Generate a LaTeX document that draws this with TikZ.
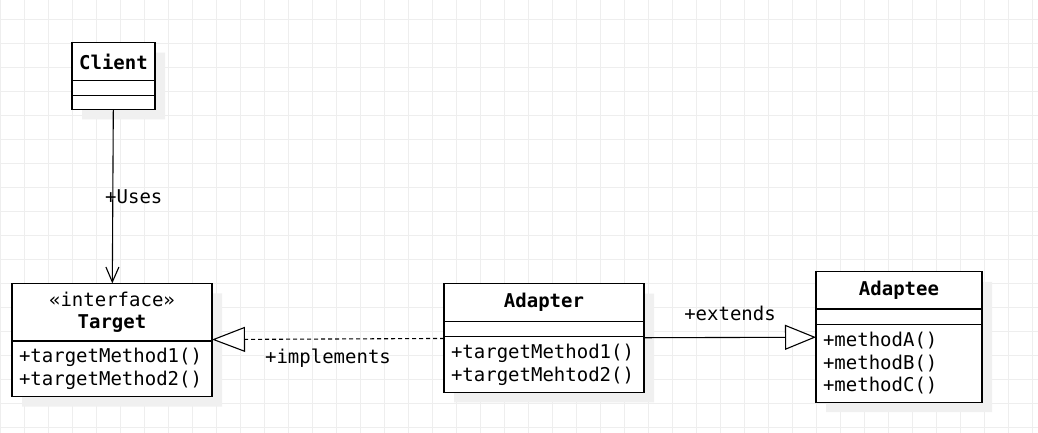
\documentclass[tikz,border=0pt]{standalone}
\usepackage{fontspec}
\setmainfont{DejaVu Sans Mono}
\usepackage{tikz}
\usetikzlibrary{shadows}
\usetikzlibrary{positioning}
\usetikzlibrary{shapes.multipart}
\usetikzlibrary{arrows.meta}

\definecolor{gridgray}{HTML}{EEEEEE}
\definecolor{shadowgray}{HTML}{F0F0F0}

\newcommand{\classhead}[3]{\parbox[c][#2][c]{#1}{\centering #3}}
\newcommand{\classbody}[3]{\parbox[c][#2][c]{#1}{\raggedright\leftskip=7pt #3}}

\tikzset{
  umlclass/.style={rectangle split, rectangle split parts=#1, draw, line width=1.1pt,
    fill=white, inner sep=0pt, outer sep=0pt,
    drop shadow={shadow xshift=10pt, shadow yshift=-10pt, fill=shadowgray, opacity=1}},
  usesedge/.style={line width=1.1pt, -{Straight Barb[length=15pt, width=13pt]}},
  realizeedge/.style={line width=1.1pt, dash pattern=on 4pt off 3pt,
    -{Triangle[length=33pt, width=25pt, fill=white]}},
  extendsedge/.style={line width=1.1pt, -{Triangle[length=31pt, width=25pt, fill=white]}},
}

\begin{document}
\begin{tikzpicture}[x=1pt, y=-1pt, font=\fontsize{19}{22.5}\selectfont]
\useasboundingbox (0,0) rectangle (1038,433);
% Background grid
\fill[white] (0,0) rectangle (1038,433);
\foreach \gx in {0,...,43} \draw[gridgray, line width=1pt] (0.3+24*\gx,0) -- (0.3+24*\gx,433);
\foreach \gy in {0,...,17} \draw[gridgray, line width=1pt] (0,19.3+24*\gy) -- (1038,19.3+24*\gy);

% Define nodes
\node[umlclass=3] (client) at (113.5,76) {\classhead{83pt}{37pt}{\textbf{Client}}
  \nodepart{two}\classbody{83pt}{14pt}{}
  \nodepart{three}\classbody{83pt}{12.5pt}{}};
\node[umlclass=2, below=174pt of client, xshift=-1.5pt] (target) {\classhead{200pt}{56.5pt}{«interface»\\\textbf{Target}}
  \nodepart{two}\classbody{200pt}{54.5pt}{+targetMethod1()\\+targetMethod2()}};
\node[umlclass=3, right=232pt of target, yshift=2pt] (adapter) {\classhead{200pt}{37pt}{\textbf{Adapter}}
  \nodepart{two}\classbody{200pt}{14pt}{}
  \nodepart{three}\classbody{200pt}{54.5pt}{+targetMethod1()\\+targetMehtod2()}};
\node[umlclass=3, right=172pt of adapter, yshift=1pt] (adaptee) {\classhead{166pt}{36pt}{\textbf{Adaptee}}
  \nodepart{two}\classbody{166pt}{14pt}{}
  \nodepart{three}\classbody{166pt}{77pt}{+methodA()\\+methodB()\\+methodC()}};

% Edges
\draw[usesedge] (client) -- node[xshift=21pt] {+Uses} (target);
\draw[realizeedge] (adapter) -- node[yshift=-19pt] {+implements} (target);
\draw[extendsedge] (adapter) -- node[yshift=24pt] {+extends} (adaptee);
\end{tikzpicture}
\end{document}
